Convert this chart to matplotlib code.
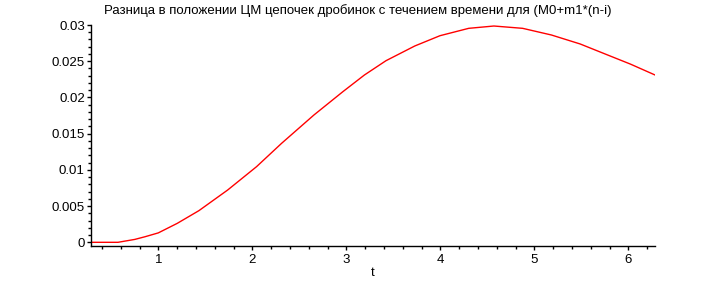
import matplotlib
matplotlib.use("Agg")
import matplotlib.pyplot as plt
from matplotlib.ticker import MultipleLocator, FixedLocator

plt.rcParams['font.family'] = ['Liberation Sans', 'DejaVu Sans']

title = "Разница в положении ЦМ цепочек дробинок с течением времени для (M0+m1*(n-i)"
xlabel = "t"

t = [0.284, 0.571, 0.75, 0.859, 1.0, 1.202, 1.432, 1.738, 2.045, 2.312,
     2.656, 2.963, 3.193, 3.422, 3.728, 3.996, 4.302, 4.570, 4.876, 5.182,
     5.488, 5.782, 6.023, 6.284]
v = [0.0, 0.0, 0.0004, 0.00077, 0.0013, 0.00262, 0.00437, 0.00722, 0.01044, 0.01367,
     0.01758, 0.02079, 0.0231, 0.02507, 0.0271, 0.02852, 0.02954, 0.02986, 0.02954, 0.02862,
     0.02738, 0.02585, 0.0246, 0.0231]

xticks = [1, 2, 3, 4, 5, 6]
yticks = [0, 0.005, 0.01, 0.015, 0.02, 0.025, 0.03]
ytick_labels = ["0", "0.005", "0.01", "0.015", "0.02", "0.025", "0.03"]

W, H = 709, 282
fig = plt.figure(figsize=(W / 100, H / 100), dpi=100)
left, right, top, bottom = 91, 655, 25, 246
ax = fig.add_axes([left / W, 1 - bottom / H, (right - left) / W, (bottom - top) / H])

ax.plot(t, v, color='red', lw=1.0)

ax.set_xlim(0.284, 6.284)
ax.set_ylim(-0.00051, 0.03)

for s in ['top', 'right']:
    ax.spines[s].set_visible(False)
for s in ['left', 'bottom']:
    ax.spines[s].set_linewidth(1.0)
    ax.spines[s].set_color('black')

ax.xaxis.set_major_locator(FixedLocator(xticks))
ax.xaxis.set_minor_locator(MultipleLocator(0.2))
ax.yaxis.set_major_locator(FixedLocator(yticks))
ax.set_yticklabels(ytick_labels)
ax.yaxis.set_minor_locator(MultipleLocator(0.001))

ax.tick_params(axis='both', which='major', direction='out', length=3, width=1,
               labelsize=9.5, colors='black')
ax.tick_params(axis='x', which='major', pad=2.5)
ax.tick_params(axis='y', which='major', pad=1.5)
ax.tick_params(axis='both', which='minor', direction='out', length=2, width=1)

ax.set_xlabel(xlabel, fontsize=9.5, labelpad=1)
fig.text(358 / W, 1 - 11 / H, title, ha='center', va='center', fontsize=9.5)

fig.savefig("out.png", dpi=100)
